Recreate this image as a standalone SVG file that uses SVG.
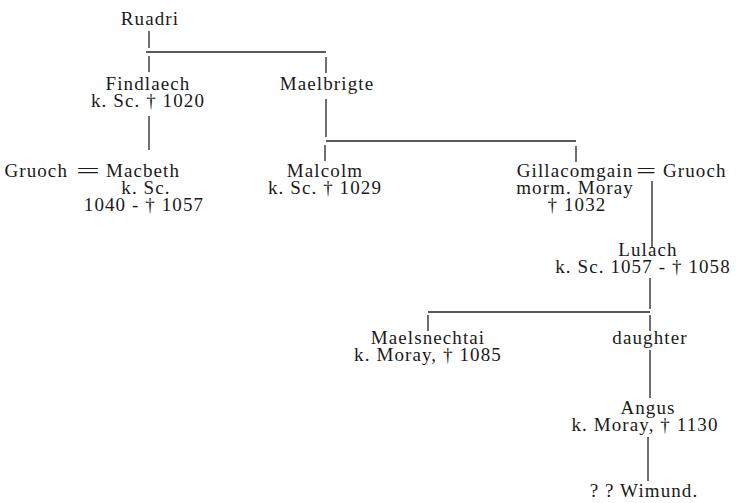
<svg xmlns="http://www.w3.org/2000/svg" width="738" height="503" viewBox="0 0 738 503">
<style>
text{font-family:"Liberation Serif","Times New Roman",serif;font-size:19px;letter-spacing:1.1px;fill:#1a1a1a;text-anchor:middle}
.e{text-anchor:end}
.s{text-anchor:start}
.eq{font-size:22px}
.c path{stroke:#222;stroke-width:1.3;fill:none}
</style>
<rect width="738" height="503" fill="#fff"/>
<g class="c" id="connectors">
<path d="M149,31V48"/>
<path d="M146,52H326"/>
<path d="M149,56V72"/>
<path d="M326,57V73"/>
<path d="M149,116V150"/>
<path d="M326,99V137"/>
<path d="M326,141H576"/>
<path d="M325,145V161"/>
<path d="M576,146V162"/>
<path d="M652,181V248"/>
<path d="M650,278V309"/>
<path d="M428,312H650"/>
<path d="M428,315V331"/>
<path d="M650,315V331"/>
<path d="M650,350V398"/>
<path d="M648,437V481"/>
</g>
<g id="ruadri"><text x="150" y="25">Ruadri</text></g>
<g id="findlaech"><text x="148" y="90">Findlaech<tspan x="148" dy="17">k. Sc. † 1020</tspan></text></g>
<g id="maelbrigte"><text x="327" y="90">Maelbrigte</text></g>
<g id="gruoch1"><text class="e" x="68" y="177">Gruoch</text></g>
<g id="marriage1"><text class="eq" x="89" y="178" textLength="26" lengthAdjust="spacingAndGlyphs">=</text></g>
<g id="macbeth"><text x="143" y="177">Macbeth<tspan x="146" dy="17">k. Sc.</tspan><tspan x="144" dy="17">1040 - † 1057</tspan></text></g>
<g id="malcolm"><text x="325" y="177">Malcolm<tspan x="325" dy="17">k. Sc. † 1029</tspan></text></g>
<g id="gillacomgain"><text x="575" y="177">Gillacomgain<tspan x="575" dy="17">morm. Moray</tspan><tspan x="577" dy="17">† 1032</tspan></text></g>
<g id="marriage2"><text class="eq" x="647" y="178" textLength="22" lengthAdjust="spacingAndGlyphs">=</text></g>
<g id="gruoch2"><text class="s" x="663" y="177">Gruoch</text></g>
<g id="lulach"><text x="648" y="256">Lulach<tspan x="643" dy="17">k. Sc. 1057 - † 1058</tspan></text></g>
<g id="maelsnechtai"><text x="428" y="344">Maelsnechtai<tspan x="428" dy="17">k. Moray, † 1085</tspan></text></g>
<g id="daughter"><text x="650" y="344">daughter</text></g>
<g id="angus"><text x="648" y="414">Angus<tspan x="645" dy="17">k. Moray, † 1130</tspan></text></g>
<g id="wimund"><text x="644" y="497">? ? Wimund.</text></g>
</svg>
